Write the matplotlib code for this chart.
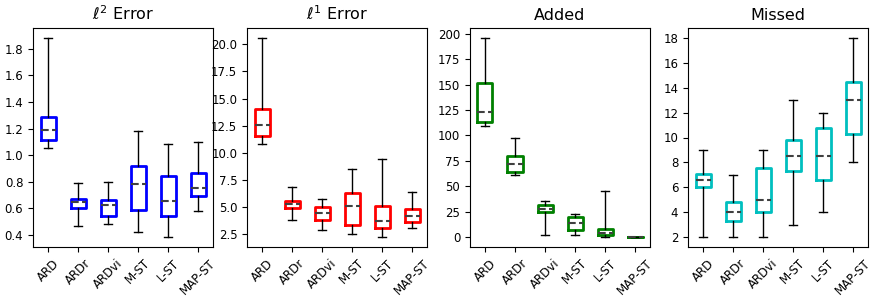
import matplotlib
matplotlib.use("Agg")
import matplotlib.pyplot as plt
from matplotlib.ticker import MultipleLocator

methods = ["ARD", "ARDr", "ARDvi", "M-ST", "L-ST", "MAP-ST"]

# (whislo, q1, med, q3, whishi) per method
l2_error = [
    (1.05, 1.11, 1.19, 1.29, 1.88),
    (0.47, 0.60, 0.645, 0.67, 0.79),
    (0.48, 0.545, 0.625, 0.665, 0.80),
    (0.42, 0.59, 0.78, 0.92, 1.18),
    (0.385, 0.545, 0.655, 0.845, 1.08),
    (0.58, 0.695, 0.75, 0.865, 1.10),
]
l1_error = [
    (10.8, 11.5, 12.6, 14.0, 20.6),
    (3.8, 4.85, 5.3, 5.5, 6.85),
    (2.85, 3.75, 4.4, 4.95, 5.75),
    (2.5, 3.35, 5.1, 6.25, 8.5),
    (2.2, 3.0, 3.65, 5.05, 9.45),
    (3.05, 3.6, 4.1, 4.75, 6.35),
]
added = [
    (109, 113, 123, 152, 196),
    (61, 64, 72, 80, 98),
    (2, 25, 28, 32, 35),
    (2, 7, 14, 20, 23),
    (0, 2, 4, 8, 45),
    (0, 0, 0, 0, 0),
]
missed = [
    (2, 6, 6.6, 7.1, 9),
    (2, 3.25, 4.05, 4.8, 7),
    (2, 4.05, 5.0, 7.55, 9),
    (3, 7.3, 8.5, 9.8, 13),
    (4, 6.55, 8.5, 10.8, 12),
    (8, 10.25, 13, 14.5, 18),
]

panels = [
    (r"$\ell^2$ Error", l2_error, "b", 0.2),
    (r"$\ell^1$ Error", l1_error, "r", 2.5),
    ("Added", added, "g", 25),
    ("Missed", missed, "c", 2),
]

# axes extents in pixels (left, right)
W, H = 882, 301
lefts = [33, 247, 470, 688]
ax_w = 180
top, bottom = 28, 247

fig = plt.figure(figsize=(W / 100, H / 100), dpi=100)

for (title, rows, color, step), left in zip(panels, lefts):
    ax = fig.add_axes([left / W, 1 - bottom / H, ax_w / W, (bottom - top) / H])
    stats = [
        {"whislo": r[0], "q1": r[1], "med": r[2], "q3": r[3], "whishi": r[4], "label": m}
        for r, m in zip(rows, methods)
    ]
    ax.bxp(
        stats,
        showfliers=False,
        boxprops=dict(color=color, linewidth=2),
        medianprops=dict(color="0.25", linestyle="--", linewidth=1.5),
        whiskerprops=dict(color="k", linewidth=1),
        capprops=dict(color="k", linewidth=1),
    )
    ax.yaxis.set_major_locator(MultipleLocator(step))
    ax.set_title(title, fontsize=11.5)
    ax.tick_params(axis="both", labelsize=8.5)
    plt.setp(ax.get_xticklabels(), rotation=45)

fig.savefig("out.png", dpi=100)
